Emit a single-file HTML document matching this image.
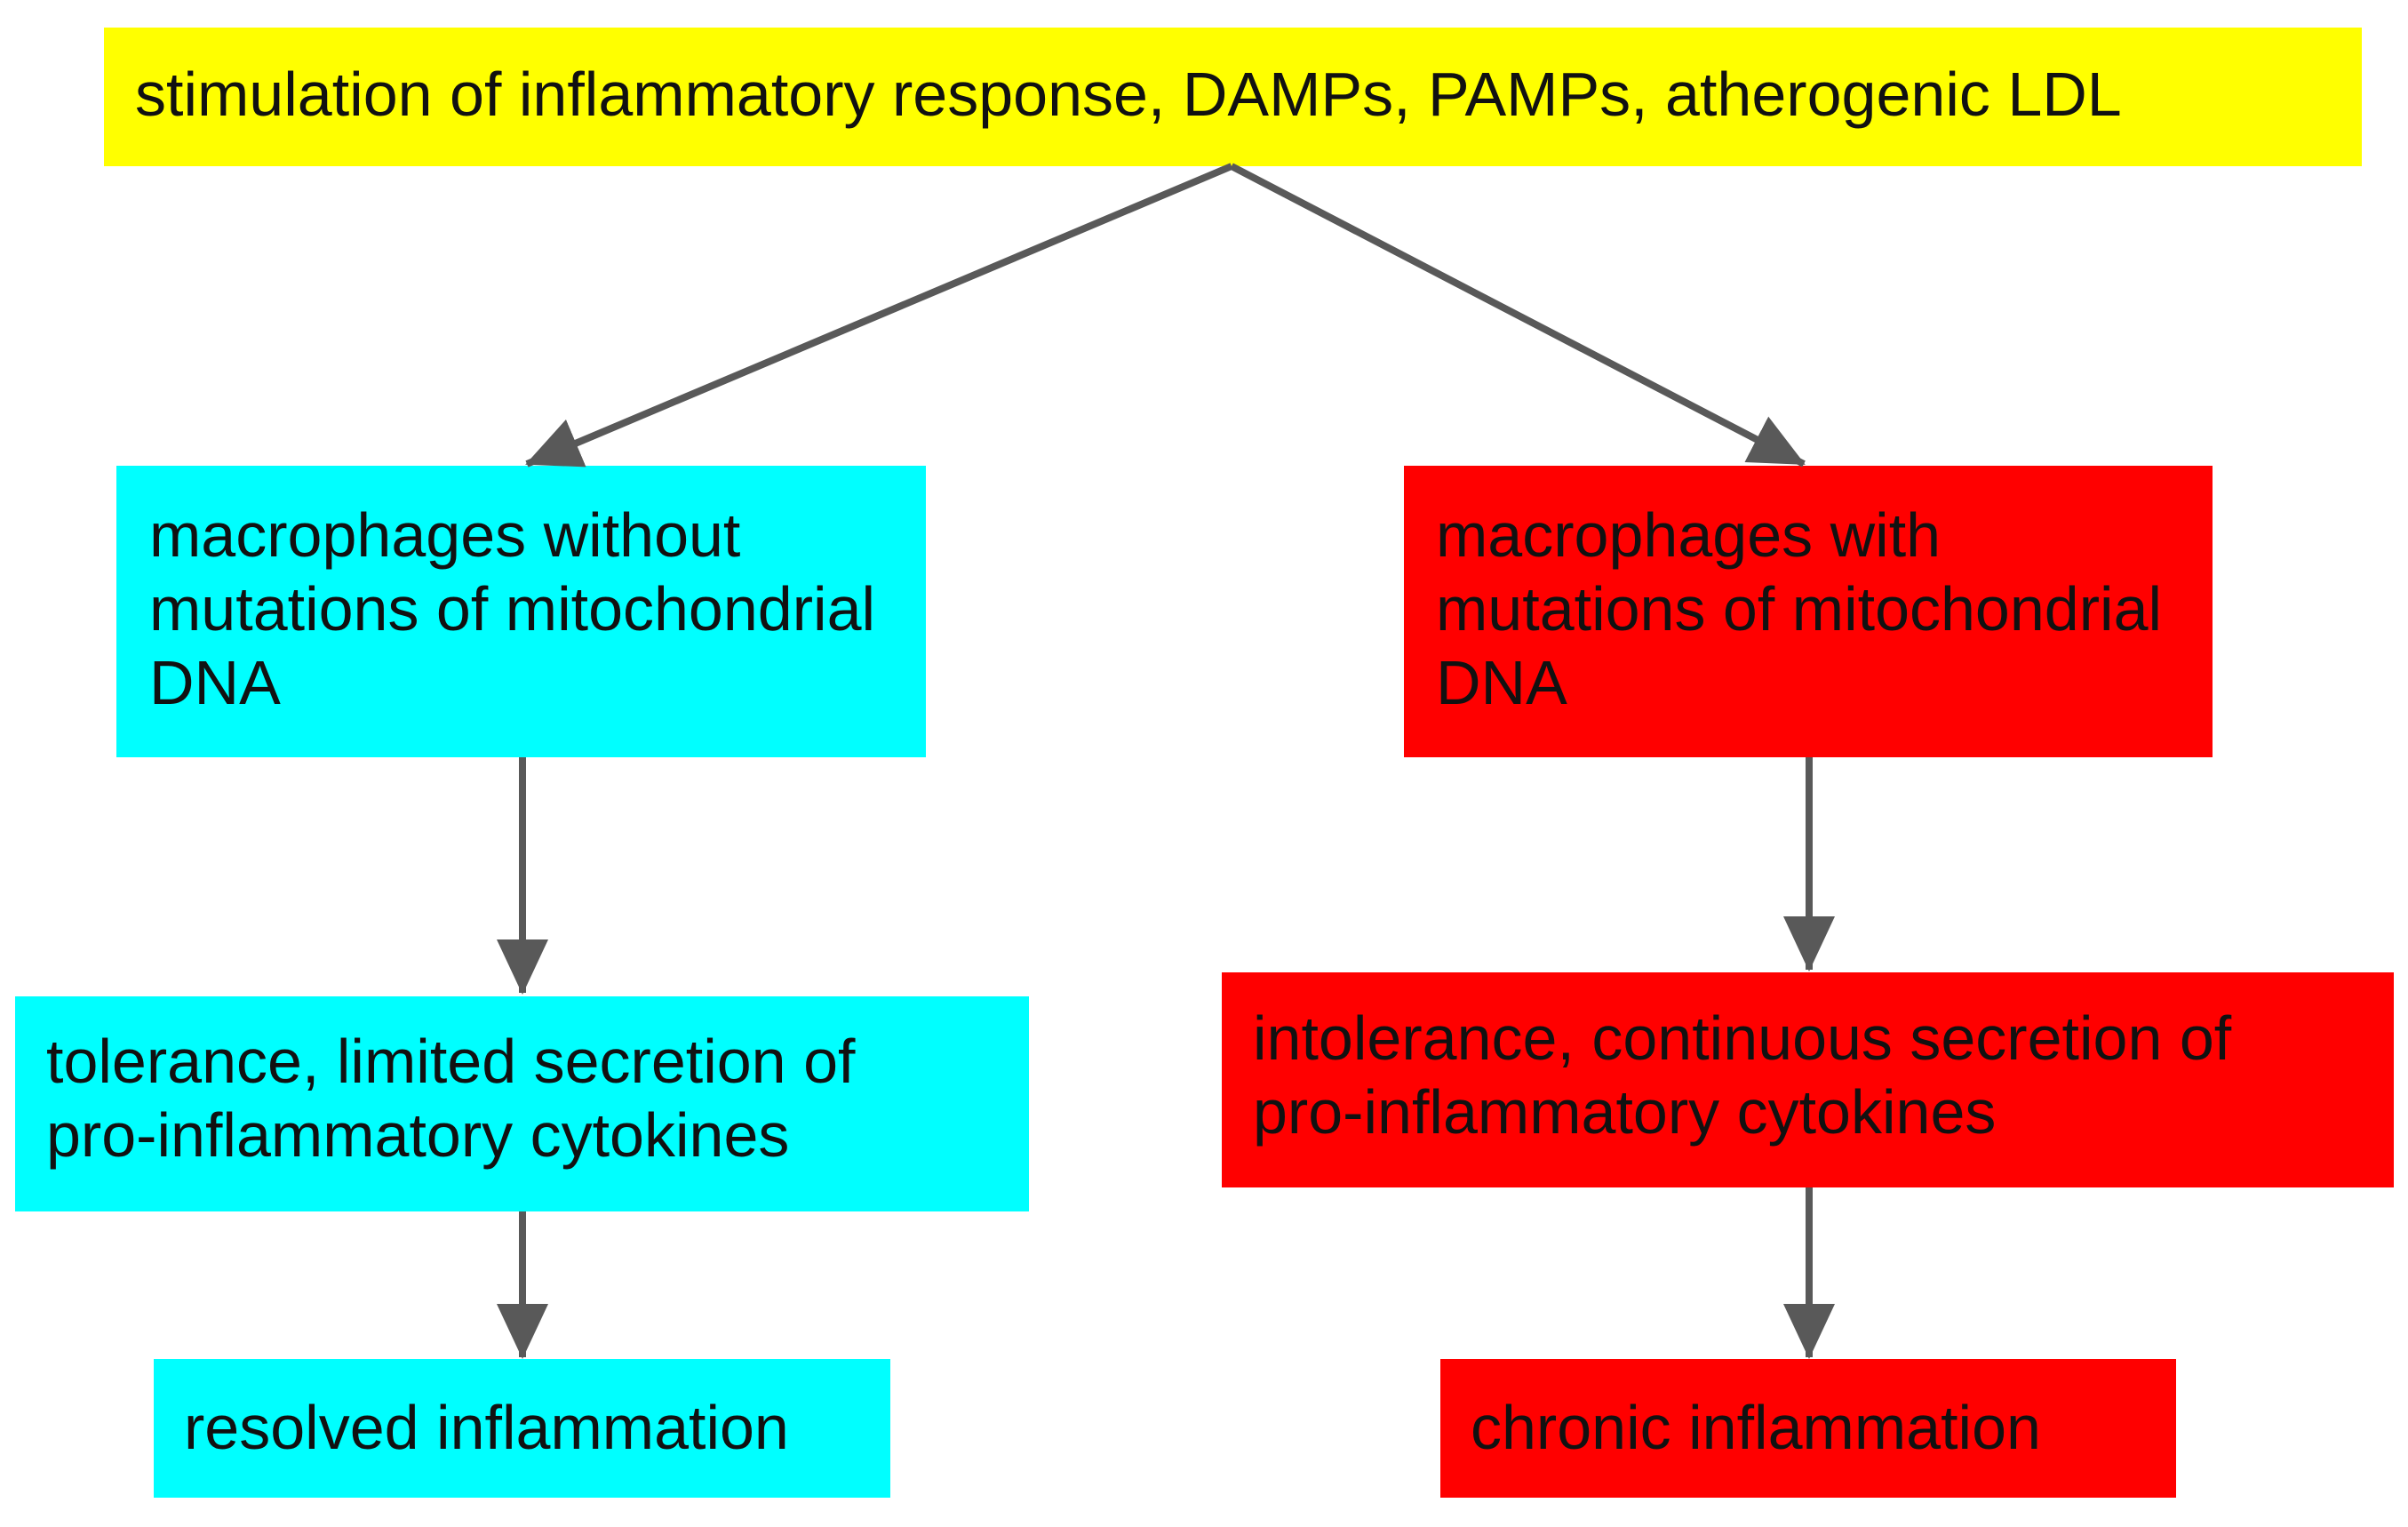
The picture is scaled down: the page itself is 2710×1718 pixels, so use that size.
<!DOCTYPE html>
<html><head><meta charset="utf-8"><style>
html,body{margin:0;padding:0;background:#fff;}
text{font-family:"Liberation Sans",Arial,sans-serif;font-size:70px;fill:#111;}
</style></head><body>
<svg width="2710" height="1713" viewBox="0 0 2710 1713" xmlns="http://www.w3.org/2000/svg">
<defs>
<marker id="a" markerUnits="userSpaceOnUse" markerWidth="62" markerHeight="58" refX="60" refY="29" orient="auto">
<path d="M0,0 L62,29 L0,58 Z" fill="#595959"/>
</marker>
</defs>
<rect x="117" y="31" width="2541" height="156" fill="#ffff00"/>
<rect x="131" y="524" width="911" height="328" fill="#00ffff"/>
<rect x="1580" y="524" width="910" height="328" fill="#ff0000"/>
<rect x="17" y="1121" width="1141" height="242" fill="#00ffff"/>
<rect x="1375" y="1094" width="1319" height="242" fill="#ff0000"/>
<rect x="173" y="1529" width="829" height="156" fill="#00ffff"/>
<rect x="1621" y="1529" width="828" height="156" fill="#ff0000"/>
<g stroke="#595959" stroke-width="8" fill="none" marker-end="url(#a)">
<line x1="1386" y1="187" x2="593" y2="522"/>
<line x1="1386" y1="187" x2="2030" y2="522"/>
<line x1="588" y1="852" x2="588" y2="1117"/>
<line x1="588" y1="1363" x2="588" y2="1527"/>
<line x1="2036" y1="852" x2="2036" y2="1091"/>
<line x1="2036" y1="1336" x2="2036" y2="1527"/>
</g>
<text x="152" y="130">stimulation of inflammatory response, DAMPs, PAMPs, atherogenic LDL</text>
<text x="168" y="626">macrophages without</text>
<text x="168" y="709">mutations of mitochondrial</text>
<text x="168" y="792">DNA</text>
<text x="1616" y="626">macrophages with</text>
<text x="1616" y="709">mutations of mitochondrial</text>
<text x="1616" y="792">DNA</text>
<text x="52" y="1218">tolerance, limited secretion of</text>
<text x="52" y="1301">pro-inflammatory cytokines</text>
<text x="1410" y="1192">intolerance, continuous secretion of</text>
<text x="1410" y="1275">pro-inflammatory cytokines</text>
<text x="207" y="1630">resolved inflammation</text>
<text x="1655" y="1630">chronic inflammation</text>
</svg>
</body></html>
